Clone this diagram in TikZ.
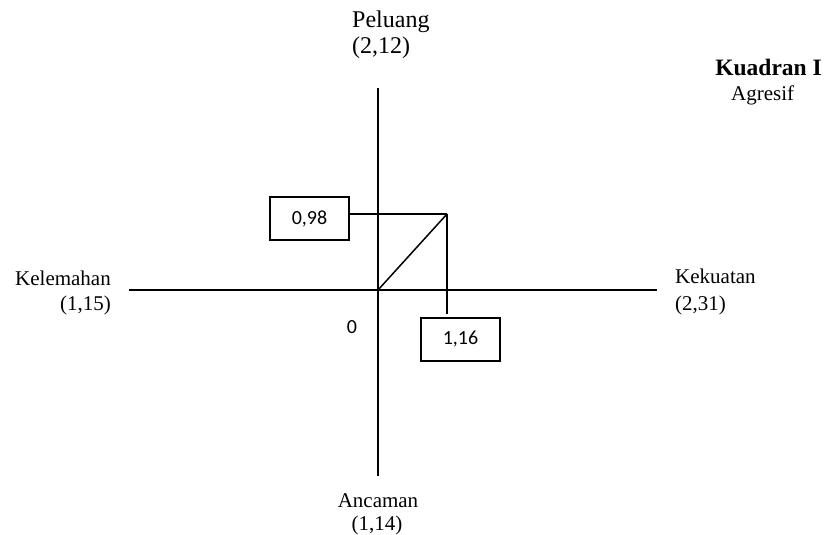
\documentclass[tikz,border=0pt]{standalone}
\usepackage{fontspec}
\setmainfont{Liberation Serif}
\newfontfamily\carlitofont{Carlito}
\begin{document}
\begin{tikzpicture}[x=1pt,y=-1pt,
  ln/.style={line width=1.5pt},
  lbl/.style={font=\fontsize{21}{24}\selectfont, inner sep=0pt},
  biglbl/.style={font=\fontsize{24}{28}\selectfont, inner sep=0pt},
  vbox/.style={draw, line width=1.3pt, minimum width=79pt, minimum height=43pt, inner sep=0pt, font=\carlitofont\fontsize{20}{24}\selectfont}]
\useasboundingbox (0,0) rectangle (827,535);
% axes
\coordinate (top) at (378,88);
\coordinate (bot) at (378,476);
\coordinate (lft) at (129,290);
\coordinate (rgt) at (657,290);
\coordinate (o) at (378,290);
\coordinate (p) at (447,214);
\coordinate (pd) at (447,314);
\draw[ln] (top) -- (bot);
\draw[ln] (lft) -- (rgt);
% value boxes
\node[vbox] (b1) at (309.5,218.5) {0,98};
\node[vbox] (b2) at (460.5,339.5) {1,16};
\draw[ln] (b1.east |- p) -- (p);
\draw[ln] (p) -- (pd);
\draw[ln] (o) -- (p);
\node[font=\carlitofont\fontsize{20}{24}\selectfont, inner sep=0pt] (zero) at (352,327) {0};
% labels
\node[biglbl, anchor=base west] (pel) at (352,28) {Peluang};
\node[biglbl, anchor=base west] (pelv) at (352,53) {(2,12)};
\node[lbl, anchor=base east] (kel) at (111,285) {Kelemahan};
\node[lbl, anchor=base east] (kelv) at (111,310) {(1,15)};
\node[lbl, anchor=base west] (kek) at (675,283) {Kekuatan};
\node[lbl, anchor=base west] (kekv) at (675,310) {(2,31)};
\node[lbl, anchor=base] (anc) at (378,507) {Ancaman};
\node[lbl, anchor=base] (ancv) at (377,530) {(1,14)};
\node[lbl, anchor=base east, font=\bfseries\fontsize{23.5}{27}\selectfont] (kq) at (822,76) {Kuadran I};
\node[lbl, anchor=base west] (agr) at (731,100) {Agresif};
\end{tikzpicture}
\end{document}
